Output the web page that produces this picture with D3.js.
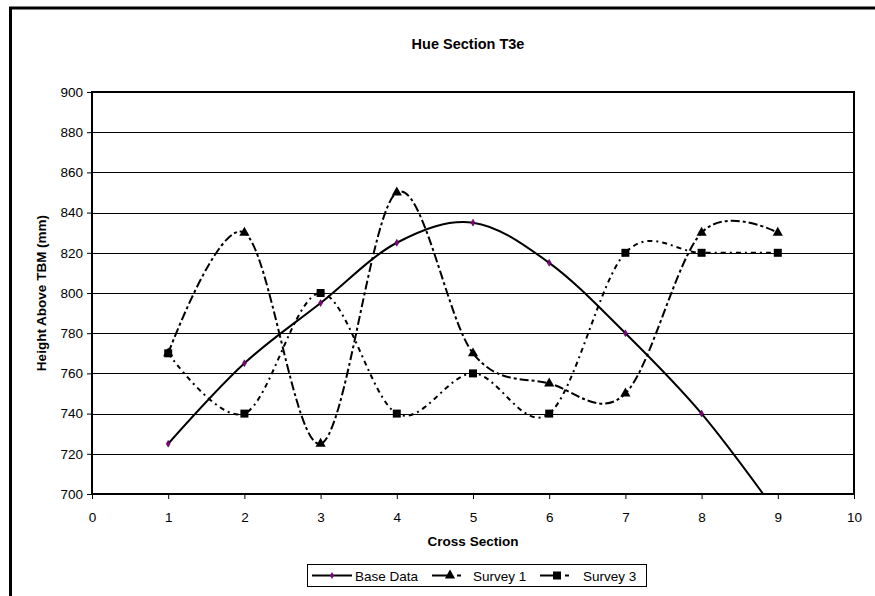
<!DOCTYPE html>
<html><head><meta charset="utf-8">
<script src="https://cdn.jsdelivr.net/npm/d3@7"></script>
<style>body{margin:0;background:#fff}svg{display:block;font-family:"Liberation Sans",Arial,sans-serif}</style>
</head><body>
<svg id="c" width="875" height="596"></svg>
<script>
const title = "Hue Section T3e";
const xTitle = "Cross Section";
const yTitle = "Height Above TBM (mm)";
const xTicks = [0,1,2,3,4,5,6,7,8,9,10];
const yTicks = [700,720,740,760,780,800,820,840,860,880,900];
const crossSections = [1,2,3,4,5,6,7,8,9];
const baseData = [725,765,795,825,835,815,780,740,690];
const survey1 = [770,830,725,850,770,755,750,830,830];
const survey3 = [770,740,800,740,760,740,820,820,820];
const seriesNames = ["Base Data","Survey 1","Survey 3"];

const svg = d3.select("#c");
const L=92, R=854, T=92, B=494;
const x = d3.scaleLinear().domain([0,10]).range([L,R]);
const y = d3.scaleLinear().domain([700,900]).range([B,T]);

// outer frame
svg.append("rect").attr("x",10.5).attr("y",8).attr("width",900).attr("height",700)
  .attr("fill","none").attr("stroke","#000").attr("stroke-width",3);

// title
svg.append("text").attr("x",468).attr("y",49).attr("text-anchor","middle")
  .attr("font-size",14.5).attr("font-weight","bold").text(title);

// gridlines
svg.append("g").selectAll("line").data(yTicks.slice(1,-1)).join("line")
  .attr("x1",L).attr("x2",R).attr("y1",d=>Math.round(y(d))+0.5).attr("y2",d=>Math.round(y(d))+0.5)
  .attr("stroke","#000").attr("stroke-width",1);

// axes
const yAxis = d3.axisLeft(y).tickValues(yTicks).tickSize(5).tickPadding(4);
const gy = svg.append("g").attr("transform",`translate(${L},0)`).call(yAxis);
gy.select(".domain").remove();
gy.selectAll("text").attr("font-size",13.5).attr("font-family","Liberation Sans, Arial, sans-serif").attr("fill","#000");
gy.selectAll("line").attr("stroke","#000");
const xAxis = d3.axisBottom(x).tickValues(xTicks).tickSize(5).tickPadding(13);
const gx = svg.append("g").attr("transform",`translate(0,${B})`).call(xAxis);
gx.select(".domain").remove();
gx.selectAll("text").attr("font-size",13.5).attr("font-family","Liberation Sans, Arial, sans-serif").attr("fill","#000");
gx.selectAll("line").attr("stroke","#000");

// plot border
svg.append("rect").attr("x",L).attr("y",T).attr("width",R-L).attr("height",B-T)
  .attr("fill","none").attr("stroke","#000").attr("stroke-width",2);

// axis titles
svg.append("text").attr("x",473).attr("y",546).attr("text-anchor","middle")
  .attr("font-size",13.5).attr("font-weight","bold").text(xTitle);
svg.append("text").attr("transform",`translate(46,${(T+B)/2}) rotate(-90)`).attr("text-anchor","middle")
  .attr("font-size",13.5).attr("font-weight","bold").text(yTitle);

// clip
svg.append("clipPath").attr("id","clip").append("rect").attr("x",L).attr("y",T).attr("width",R-L).attr("height",B-T);

const curve = d3.curveCardinal.tension(0);
const line = d3.line().x((d,i)=>x(crossSections[i])).y(d=>y(d)).curve(curve);

const series = [
  {name:seriesNames[1], vals:survey1, dash:"9,3,3,3", marker:"tri"},
  {name:seriesNames[2], vals:survey3, dash:"5,4,2,4", marker:"sq"},
  {name:seriesNames[0], vals:baseData, dash:null, marker:"dia"}
];
const tri = d3.symbol().type(d3.symbolTriangle).size(45);
const sq = d3.symbol().type(d3.symbolSquare).size(64);
const dia = d3.symbol().type(d3.symbolDiamond).size(14);

const plot = svg.append("g").attr("clip-path","url(#clip)");
series.forEach(s=>{
  plot.append("path").attr("d",line(s.vals)).attr("fill","none").attr("stroke","#000")
    .attr("stroke-width",2).attr("stroke-dasharray",s.dash);
});
series.forEach(s=>{
  const sym = s.marker==="tri"?tri:s.marker==="sq"?sq:dia;
  plot.append("g").selectAll("path").data(s.vals).join("path")
    .attr("transform",(d,i)=>`translate(${x(crossSections[i])},${y(d)})`)
    .attr("d",sym())
    .attr("fill",s.marker==="dia"?"#800080":"#000")
    .attr("stroke",s.marker==="dia"?"#400040":"none").attr("stroke-width",0.5);
});

// legend
const lg = svg.append("g");
lg.append("rect").attr("x",307.5).attr("y",564.5).attr("width",339).attr("height",22)
  .attr("fill","#fff").attr("stroke","#000").attr("stroke-width",1);
const items = [
  {name:seriesNames[0], dash:null, marker:"dia", x0:312, x1:352, mx:332, tx:355},
  {name:seriesNames[1], dash:"16,9,4,20", marker:"tri", x0:432, x1:462, mx:450, tx:473},
  {name:seriesNames[2], dash:"16,9,4,20", marker:"sq", x0:540, x1:570, mx:557, tx:583}
];
items.forEach(it=>{
  const ly=575.5;
  lg.append("line").attr("x1",it.x0).attr("x2",it.x1).attr("y1",ly).attr("y2",ly)
    .attr("stroke","#000").attr("stroke-width",2).attr("stroke-dasharray",it.dash);
  const sym = it.marker==="tri"?tri:it.marker==="sq"?sq:dia;
  lg.append("path").attr("transform",`translate(${it.mx},${ly})`).attr("d",sym())
    .attr("fill",it.marker==="dia"?"#800080":"#000");
  lg.append("text").attr("x",it.tx).attr("y",ly+5).attr("font-size",13.5).text(it.name);
});
</script>
</body></html>
